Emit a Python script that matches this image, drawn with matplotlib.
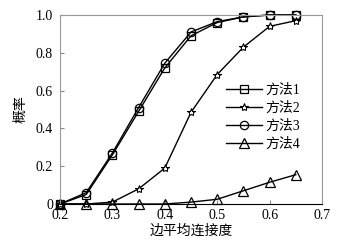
import matplotlib
matplotlib.use("Agg")
import matplotlib.pyplot as plt
from matplotlib.ticker import FuncFormatter

plt.rcParams["font.family"] = ["Liberation Serif", "Noto Sans CJK SC"]

degree = [0.2, 0.25, 0.3, 0.35, 0.4, 0.45, 0.5, 0.55, 0.6, 0.65]
method1 = [0.0, 0.05, 0.26, 0.49, 0.72, 0.89, 0.96, 0.99, 1.0, 1.0]
method2 = [0.0, 0.0, 0.01, 0.08, 0.19, 0.485, 0.685, 0.83, 0.94, 0.97]
method3 = [0.0, 0.06, 0.27, 0.51, 0.745, 0.91, 0.965, 0.99, 1.0, 1.0]
method4 = [0.0, 0.0, 0.0, 0.0, 0.0, 0.01, 0.025, 0.07, 0.115, 0.155]
labels = ["方法1", "方法2", "方法3", "方法4"]


def main():
    fig = plt.figure(figsize=(3.59, 2.45), dpi=100)
    ax = fig.add_axes([60 / 359, 41 / 245, 262 / 359, 189 / 245])

    style = dict(color="black", lw=1.0, markerfacecolor="none",
                 markeredgecolor="black", markeredgewidth=0.9, clip_on=False)
    ax.plot(degree, method1, marker="s", ms=6, label=labels[0], **style)
    ax.plot(degree, method2, marker="*", ms=6, label=labels[1], color="black",
            lw=1.0, markerfacecolor="white", markeredgecolor="black",
            markeredgewidth=0.8, clip_on=False)
    ax.plot(degree, method3, marker="o", ms=6, label=labels[2], **style)
    ax.plot(degree, method4, marker="^", ms=7, label=labels[3], **style)

    ax.set_xlim(0.2, 0.7)
    ax.set_ylim(0, 1.0)
    ax.set_xticks([0.2, 0.3, 0.4, 0.5, 0.6, 0.7])
    ax.set_yticks([0, 0.2, 0.4, 0.6, 0.8, 1.0])
    ax.yaxis.set_major_formatter(FuncFormatter(lambda v, p: "0" if v == 0 else f"{v:.1f}"))
    ax.tick_params(direction="in", length=3, labelsize=10, color="#888888")
    ax.tick_params(axis="y", pad=5)
    for s in ax.spines.values():
        s.set_color("#999999")
    ax.spines["bottom"].set_color("black")

    ax.set_xlabel("边平均连接度", fontsize=10, labelpad=2)
    ax.set_ylabel("概率", fontsize=10, labelpad=6)

    ax.legend(loc="center", bbox_to_anchor=(0.775, 0.46), frameon=False,
              fontsize=10, handlelength=2.6, handletextpad=0.3,
              labelspacing=0.35, borderaxespad=0)

    fig.savefig("out.png", dpi=100)


if __name__ == "__main__":
    main()
